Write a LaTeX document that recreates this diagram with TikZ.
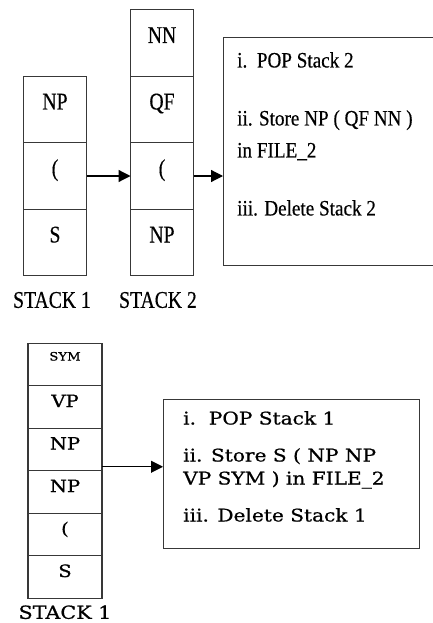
\documentclass[tikz,border=0pt]{standalone}
\usepackage{fontspec}
\usepackage{tikz}
\usetikzlibrary{positioning,backgrounds,arrows.meta}
\newfontfamily\policehaut[FakeStretch=0.82,FakeBold=0.4]{Liberation Serif}
\newfontfamily\policecadre[FakeStretch=0.87,FakeBold=0.4]{Liberation Serif}
\newfontfamily\policebas[FakeStretch=1.15,FakeBold=0.8]{DejaVu Serif}
\definecolor{trait}{rgb}{0.22,0.22,0.22}

\begin{document}
\begin{tikzpicture}[x=1pt,y=-1pt]
  \tikzset{
    node distance=0pt,
    case/.style={
      draw=trait,line width=1.2pt,inner sep=0pt,outer sep=0pt,
      minimum width=63pt,text height=8pt,text depth=8pt,
    },
    case haut/.style={case,minimum height=66.5pt,font=\policehaut\fontsize{24}{24}\selectfont},
    case bas/.style={case,minimum width=74pt,minimum height=42.5pt,font=\policebas\fontsize{17}{17}\selectfont},
    cadre/.style={draw=trait,line width=1.2pt,inner sep=0pt,anchor=north west},
    consigne/.style={anchor=north west,inner sep=0pt,align=left},
    etiquette/.style={inner sep=0pt},
    fleche/.style={line width=1.2pt,draw=black,-{Triangle[length=12pt,width=12pt]}},
  }
  \clip (0,0) rectangle (433,623);

  % pile 2 (en haut)
  \node[case haut] (nn) at (162,43) {NN};
  \node[case haut, below=of nn] (qf) {QF};
  \node[case haut, below=of qf] (par2) {(};
  \node[case haut, below=of par2] (np2) {NP};
  % pile 1 (en haut)
  \node[case haut, left=44pt of qf] (np1) {NP};
  \node[case haut, below=of np1] (par1) {(};
  \node[case haut, below=of par1] (s1) {S};
  \node[etiquette, font=\policehaut\fontsize{24}{24}\selectfont, below=16pt of s1, xshift=-3pt] (pile1) {STACK 1};
  \node[etiquette, font=\policehaut\fontsize{24}{24}\selectfont, below=16pt of np2, xshift=-4pt] (pile2) {STACK 2};

  \node[cadre, minimum width=222pt, minimum height=228pt] (cadre1) at (223,37) {};
  \node[consigne, font=\policecadre\fontsize{22}{32}\selectfont] (etapes1) at ([shift={(14,15)}]cadre1.north west)
    {i.\ \ POP Stack 2\\[26pt]
     ii. Store NP ( QF NN )\\
     in FILE\_2\\[26pt]
     iii. Delete Stack 2};

  \draw[fleche] (par1.east) -- (par2.west);
  \draw[fleche] (par2.east) -- (par2.east -| cadre1.west);

  % pile 1 (en bas)
  \node[case bas, font=\policebas\fontsize{11.5}{11.5}\selectfont, text height=12pt, text depth=20pt] (sym) at (65,364.5) {SYM};
  \node[case bas, below=of sym] (vp) {VP};
  \node[case bas, below=of vp] (np3) {NP};
  \node[case bas, below=of np3] (np4) {NP};
  \node[case bas, below=of np4] (par3) {(};
  \node[case bas, below=of par3] (s3) {S};
  \node[etiquette, font=\policebas\fontsize{18}{18}\selectfont, below=7pt of s3] (pile3) {STACK 1};

  \node[cadre, minimum width=256pt, minimum height=149pt] (cadre2) at (163,399) {};
  \node[consigne, font=\policebas\fontsize{17.5}{23}\selectfont] (etapes2) at ([shift={(20,12)}]cadre2.north west)
    {i.\ \ POP Stack 1\\[14pt]
     ii. Store S ( NP NP\\
     VP SYM ) in FILE\_2\\[14pt]
     iii. Delete Stack 1};

  \coordinate (depart) at ([yshift=4pt]np3.south east);
  \draw[fleche, line width=1pt] (depart) -- (depart -| cadre2.west);
\end{tikzpicture}
\end{document}
